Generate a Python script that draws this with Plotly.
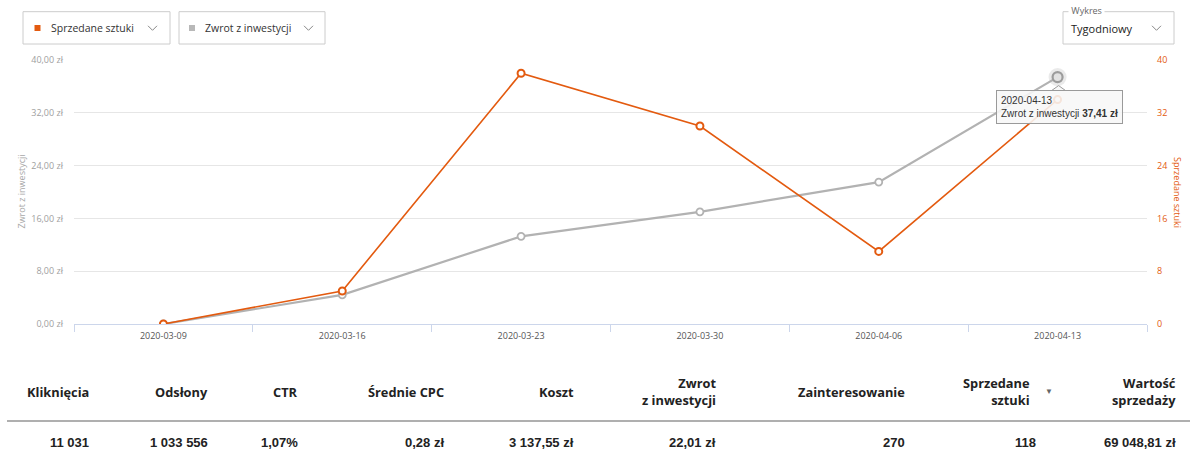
import plotly.graph_objects as go

# ---------------- data ----------------
weeks = ["2020-03-09", "2020-03-16", "2020-03-23", "2020-03-30", "2020-04-06", "2020-04-13"]
sold_units = [0, 5, 38, 30, 11, 34]                 # Sprzedane sztuki (right axis)
roi_values = [0.0, 4.41, 13.28, 17.0, 21.5, 37.41]  # Zwrot z inwestycji, zł (left axis)

left_ticks = [0, 8, 16, 24, 32, 40]
left_ticktext = ["0,00 zł", "8,00 zł", "16,00 zł", "24,00 zł", "32,00 zł", "40,00 zł"]
right_ticks = [0, 8, 16, 24, 32, 40]
right_ticktext = ["0", "8", "16", "24", "32", "40"]

table_headers = ["Kliknięcia", "Odsłony", "CTR", "Średnie CPC", "Koszt",
                 "Zwrot<br>z inwestycji", "Zainteresowanie", "Sprzedane<br>sztuki", "Wartość<br>sprzedaży"]
table_values = ["11 031", "1 033 556", "1,07%", "0,28 zł", "3 137,55 zł",
                "22,01 zł", "270", "118", "69 048,81 zł"]

ORANGE = "#e35a0f"
GRAY = "#b2b2b2"

W, H = 1200, 472
ML, MR, MT, MB = 74, 53, 60, 148
PW, PH = W - ML - MR, H - MT - MB


def xp(px):
    return (px - ML) / PW


def yp(py):
    return (H - MB - py) / PH


fig = go.Figure()

fig.add_trace(go.Scatter(
    x=weeks, y=roi_values, mode="lines+markers", name="Zwrot z inwestycji",
    line=dict(color=GRAY, width=2.2),
    marker=dict(symbol="circle", size=7, color="white", line=dict(color=GRAY, width=1.8)),
    yaxis="y", hoverinfo="skip", showlegend=False,
))
fig.add_trace(go.Scatter(
    x=weeks, y=sold_units, mode="lines+markers", name="Sprzedane sztuki",
    line=dict(color=ORANGE, width=1.6),
    marker=dict(symbol="circle", size=7, color="white", line=dict(color=ORANGE, width=2)),
    yaxis="y2", hoverinfo="skip", showlegend=False,
))
# hovered point highlight (last ROI point)
fig.add_trace(go.Scatter(
    x=weeks[-1:], y=roi_values[-1:], mode="markers",
    marker=dict(symbol="circle", size=18, color="rgba(170,170,170,0.25)"),
    yaxis="y", hoverinfo="skip", showlegend=False,
))
fig.add_trace(go.Scatter(
    x=weeks[-1:], y=roi_values[-1:], mode="markers",
    marker=dict(symbol="circle", size=10, color="#e2e2e2", line=dict(color="#9c9c9c", width=2.2)),
    yaxis="y", hoverinfo="skip", showlegend=False,
))

shapes = []
annotations = []

# tooltip notch
shapes.append(dict(
    type="path", xref="x", yref="y", xsizemode="pixel", ysizemode="pixel",
    xanchor=weeks[-1], yanchor=roi_values[-1],
    path="M -6,-13.5 L 1,-8.5 L 8,-13.5",
    fillcolor="rgba(247,247,247,0.9)", line=dict(color="#9a9a9a", width=1), layer="above",
))
annotations.append(dict(
    x=weeks[-1], y=roi_values[-1], xref="x", yref="y",
    xanchor="center", yanchor="top", yshift=-13, xshift=2,
    text=f"{weeks[-1]}<br>Zwrot z inwestycji <b>{roi_values[-1]:.2f} zł</b>".replace(".", ","),
    showarrow=False, align="left",
    font=dict(family="Liberation Sans, Arial", size=10, color="#333"),
    bgcolor="rgba(247,247,247,0.88)", bordercolor="#9a9a9a", borderwidth=1, borderpad=4,
))

# axis titles
annotations.append(dict(
    x=xp(20.5), y=yp(192), xref="paper", yref="paper", text="Zwrot z inwestycji",
    xanchor="center", yanchor="middle",
    textangle=-90, showarrow=False, font=dict(family="Open Sans", size=9, color="#a8a8a8"),
))
annotations.append(dict(
    x=xp(1178), y=yp(192), xref="paper", yref="paper", text="Sprzedane sztuki",
    xanchor="center", yanchor="middle",
    textangle=90, showarrow=False, font=dict(family="Open Sans", size=9, color=ORANGE),
))

# ---------------- top controls ----------------
def box(x0, x1, y0=11.7, y1=44):
    shapes.append(dict(type="rect", xref="paper", yref="paper",
                       x0=xp(x0), x1=xp(x1), y0=yp(y1), y1=yp(y0),
                       line=dict(color="#cccccc", width=1), fillcolor="white", layer="below"))


def chevron(cx, cy=28):
    shapes.append(dict(type="path", xref="paper", yref="paper",
                       path=f"M {xp(cx-4.5)},{yp(cy-2.2)} L {xp(cx)},{yp(cy+2.3)} L {xp(cx+4.5)},{yp(cy-2.2)}",
                       line=dict(color="#888888", width=1), layer="above"))


def square(cx, color, cy=28, s=3):
    shapes.append(dict(type="rect", xref="paper", yref="paper",
                       x0=xp(cx - s), x1=xp(cx + s), y0=yp(cy + s), y1=yp(cy - s),
                       line=dict(width=0), fillcolor=color, layer="above"))


def label(px, py, text, size, color, anchor="left", bg=None):
    d = dict(x=xp(px), y=yp(py), xref="paper", yref="paper", xanchor=anchor, yanchor="middle",
             text=text, showarrow=False, borderpad=0,
             font=dict(family="Open Sans", size=size, color=color))
    if bg:
        d["bgcolor"] = bg
    annotations.append(d)


box(23, 170)
square(37.5, ORANGE)
label(49.5, 28, "Sprzedane sztuki", 10.5, "#333")
chevron(152.5)

box(179, 325)
square(192, "#b8b8b8")
label(203.5, 28, "Zwrot z inwestycji", 10.5, "#333")
chevron(308.5)

box(1063, 1174)
label(1068, 10.7, " Wykres ", 9, "#666", bg="white")
label(1070, 28.5, "Tygodniowy", 11, "#222")
chevron(1156.5)

# ---------------- summary table ----------------
header_right = [90, 209, 299, 445, 575, 717, 906, 1031, 1177]
value_right = [90, 209, 299, 445, 575, 717, 906, 1037, 1177]
for hx, vx, htxt, vtxt in zip(header_right, value_right, table_headers, table_values):
    annotations.append(dict(x=xp(hx), y=yp(391.5), xref="paper", yref="paper",
                            xanchor="right", yanchor="middle", align="right",
                            text=f"<b>{htxt}</b>", showarrow=False, borderpad=0,
                            font=dict(family="Open Sans", size=12.8, color="#222")))
    annotations.append(dict(x=xp(vx), y=yp(442), xref="paper", yref="paper",
                            xanchor="right", yanchor="middle", align="right",
                            text=f"<b>{vtxt}</b>", showarrow=False, borderpad=0,
                            font=dict(family="Liberation Sans, Arial", size=13, color="#222")))
# sort arrow
annotations.append(dict(x=xp(1049), y=yp(390), xref="paper", yref="paper",
                        xanchor="center", yanchor="middle",
                        text="▼", showarrow=False, font=dict(size=8, color="#666")))
shapes.append(dict(type="line", xref="paper", yref="paper", x0=xp(7), x1=xp(1190),
                   y0=yp(421), y1=yp(421), line=dict(color="#959595", width=1.5)))

fig.update_layout(
    width=W, height=H,
    margin=dict(l=ML, r=MR, t=MT, b=MB, pad=0),
    paper_bgcolor="white", plot_bgcolor="white",
    showlegend=False, hovermode=False,
    font=dict(family="Open Sans"),
    xaxis=dict(
        type="category", range=[-0.5, 5.5], tickson="boundaries",
        ticks="outside", ticklen=7, tickcolor="#ccd6eb", tickwidth=1,
        showline=True, linecolor="#ccd6eb", linewidth=1,
        showgrid=False, zeroline=False, ticklabelstandoff=3,
        tickfont=dict(family="Open Sans", size=9, color="#555"),
        fixedrange=True,
    ),
    yaxis=dict(
        range=[0, 40], tickvals=left_ticks, ticktext=left_ticktext,
        showgrid=True, gridcolor="#e6e6e6", gridwidth=1, zeroline=False,
        ticks="", ticklabelstandoff=10,
        tickfont=dict(family="Open Sans", size=9, color="#a0a0a0"),
        fixedrange=True,
    ),
    yaxis2=dict(
        range=[0, 40], tickvals=right_ticks, ticktext=right_ticktext,
        overlaying="y", side="right", showgrid=False, zeroline=False,
        ticks="", ticklabelstandoff=9,
        tickfont=dict(family="Open Sans", size=9, color=ORANGE),
        fixedrange=True,
    ),
    shapes=shapes,
    annotations=annotations,
)

fig.write_html("out.html")
